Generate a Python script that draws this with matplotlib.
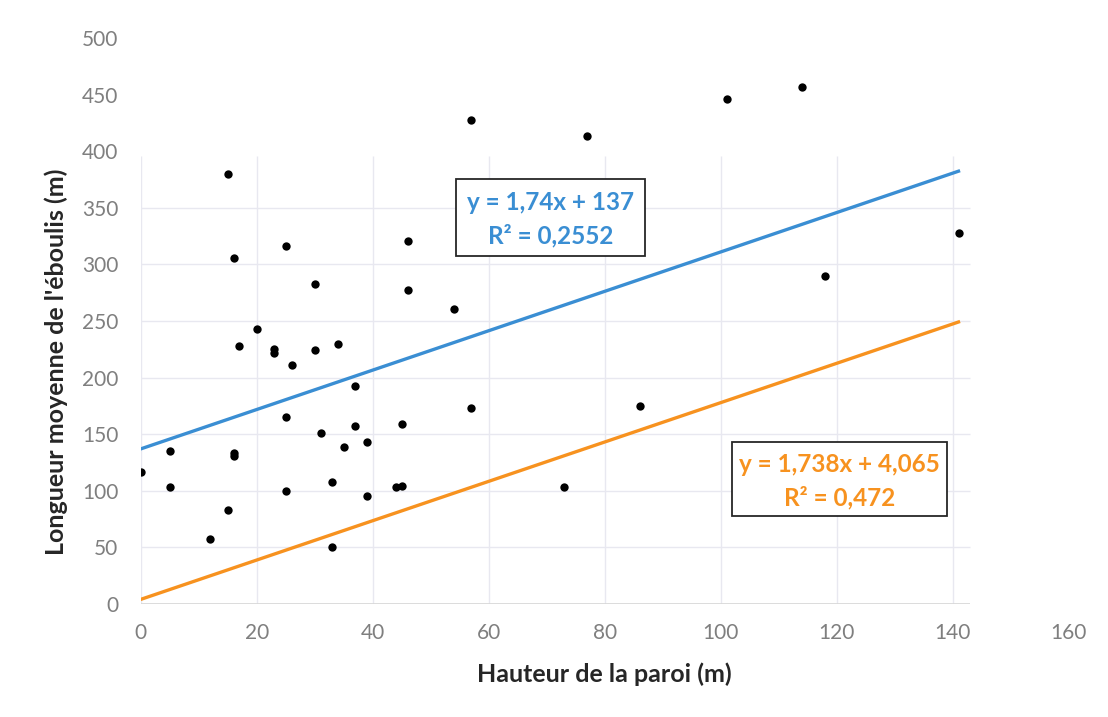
import matplotlib
matplotlib.use("Agg")
import numpy as np
import matplotlib.pyplot as plt
from matplotlib.patches import Rectangle

plt.rcParams['font.family'] = ['Lato', 'DejaVu Sans']

# hauteur de la paroi (m) / longueur moyenne de l'eboulis (m)
hauteur = [0, 5, 5, 12, 15, 15, 16, 16, 16, 17, 20, 23, 23, 25, 25, 25, 26,
           30, 30, 31, 33, 33, 34, 35, 37, 37, 39, 39, 44, 45, 45, 46, 46,
           54, 57, 57, 73, 77, 86, 101, 114, 118, 141]
longueur = [117, 135, 103, 57, 83, 380, 306, 133, 131, 228, 243, 225, 222,
            316, 165, 100, 211, 283, 224, 151, 108, 50, 230, 139, 193, 157,
            143, 95, 103, 104, 159, 321, 277, 261, 428, 173, 103, 413, 175,
            446, 457, 290, 328]

# droites de tendance
pente_1, origine_1 = 1.74, 137
pente_2, origine_2 = 1.738, 4.065
x_max_tendance = 141

eq_1 = ["y = 1,74x + 137", "R² = 0,2552"]
eq_2 = ["y = 1,738x + 4,065", "R² = 0,472"]

x_ticks = [0, 20, 40, 60, 80, 100, 120, 140, 160]
y_ticks = [0, 50, 100, 150, 200, 250, 300, 350, 400, 450, 500]

bleu = '#3a8ed3'
orange = '#f7921f'
grille = '#e8e8f0'

fig = plt.figure(figsize=(11.08, 7.17), dpi=100)
W, H = 1108, 717
left, right, top, bottom = 140.7, 1068.7, 38, 604
ax = fig.add_axes([left / W, (H - bottom) / H, (right - left) / W, (bottom - top) / H])
ax.set_xlim(0, 160)
ax.set_ylim(0, 500)

# grille partielle (zone 0-143 / 0-400)
ax.vlines(x_ticks[:-1], 0, 396, colors=grille, linewidth=1, zorder=0)
ax.hlines(y_ticks[1:8], 0, 143, colors=grille, linewidth=1, zorder=0)
ax.hlines(0, 0, 143, colors='#d6d6d6', linewidth=1.2, zorder=1)

xs = np.array([0, x_max_tendance])
ax.plot(xs, pente_1 * xs + origine_1, color=bleu, linewidth=2.4, zorder=2)
ax.plot(xs, pente_2 * xs + origine_2, color=orange, linewidth=2.4, zorder=2)

ax.scatter(hauteur, longueur, s=36, color='black', zorder=3, linewidths=0)

for s in ax.spines.values():
    s.set_visible(False)
ax.set_xticks(x_ticks)
ax.set_yticks(y_ticks)
ax.tick_params(length=0, labelsize=15, labelcolor='#7f7f7f')
ax.tick_params(axis='y', pad=16)
ax.tick_params(axis='x', pad=14)

ax.set_xlabel("Hauteur de la paroi (m)", fontsize=18, fontweight='bold',
              color='#262626', labelpad=14)
ax.set_ylabel("Longueur moyenne de l'éboulis (m)", fontsize=18, fontweight='bold',
              color='#262626')
ax.yaxis.set_label_coords(-0.078, 0.428)


def boite(x0, y0, w, h, lignes, couleur, y_lignes):
    ax.add_patch(Rectangle((x0, y0), w, h, transform=ax.transAxes, fill=True,
                           facecolor='white', edgecolor='#262626', linewidth=1.3,
                           zorder=4))
    for txt, yy in zip(lignes, y_lignes):
        ax.text(x0 + w / 2, yy, txt, transform=ax.transAxes, ha='center',
                va='center', fontsize=17.5, fontweight='bold', color=couleur,
                zorder=5)


boite(0.3398, 0.6148, 0.2037, 0.136, eq_1, bleu, [0.7085, 0.650])
boite(0.6369, 0.156, 0.2317, 0.130, eq_2, orange, [0.2456, 0.1873])

fig.savefig("out.png", dpi=100, facecolor='white')
